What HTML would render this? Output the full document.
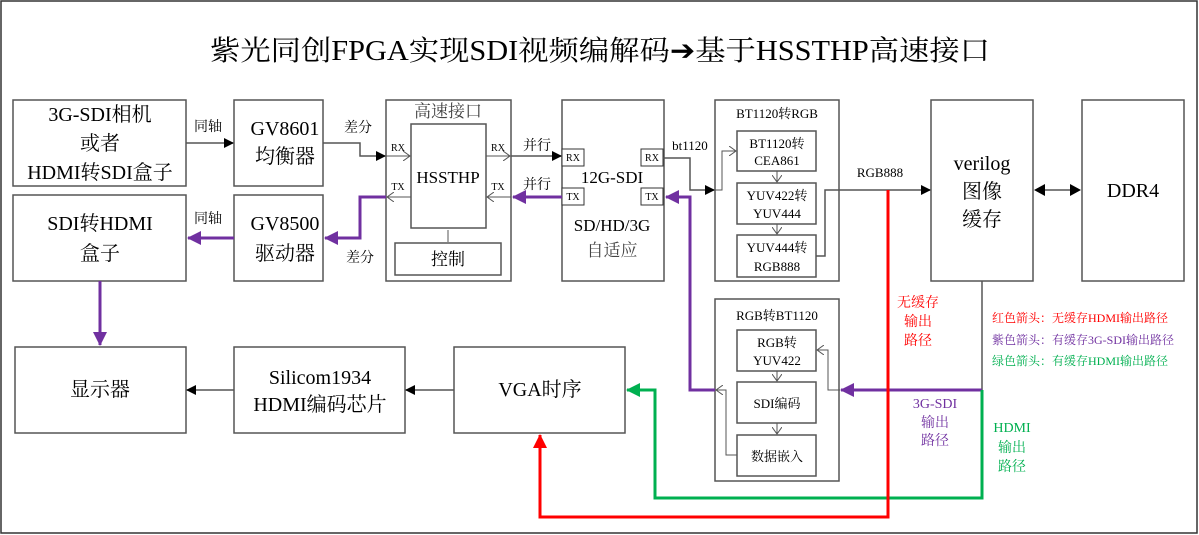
<!DOCTYPE html>
<html><head><meta charset="utf-8"><style>
html,body{margin:0;padding:0;background:#fff;}
svg{display:block;}
text{font-family:"Liberation Serif","Noto Serif CJK SC",serif;}
</style></head><body>
<svg width="1199" height="535" viewBox="0 0 1199 535" xmlns="http://www.w3.org/2000/svg">
<defs>
<marker id="ab" markerWidth="10" markerHeight="10" refX="9" refY="5" orient="auto" markerUnits="userSpaceOnUse"><path d="M0,0 L10,5 L0,10 z" fill="#000"/></marker>
<marker id="ap" markerWidth="14" markerHeight="14" refX="13" refY="7" orient="auto" markerUnits="userSpaceOnUse"><path d="M0,0 L14,7 L0,14 z" fill="#7030a0"/></marker>
<marker id="ar" markerWidth="14" markerHeight="14" refX="13" refY="7" orient="auto" markerUnits="userSpaceOnUse"><path d="M0,0 L14,7 L0,14 z" fill="#ff0000"/></marker>
<marker id="ag" markerWidth="14" markerHeight="14" refX="13" refY="7" orient="auto" markerUnits="userSpaceOnUse"><path d="M0,0 L14,7 L0,14 z" fill="#00b050"/></marker>
<marker id="ao" markerWidth="8" markerHeight="10" refX="7" refY="5" orient="auto" markerUnits="userSpaceOnUse"><path d="M0,0 L7,5 L0,10" fill="none" stroke="#555" stroke-width="1"/></marker>
</defs>
<rect x="1" y="1" width="1196" height="532" fill="#fff" stroke="#333" stroke-width="1.5"/>
<text x="600" y="60" font-size="28" text-anchor="middle" textLength="780" lengthAdjust="spacingAndGlyphs">紫光同创FPGA实现SDI视频编解码➔基于HSSTHP高速接口</text>

<g fill="#fff" stroke="#555" stroke-width="1.5">
<rect x="13" y="100" width="173" height="86"/>
<rect x="234" y="100" width="89" height="86"/>
<rect x="386" y="100" width="125" height="181"/>
<rect x="411" y="124" width="75" height="104"/>
<rect x="395" y="243" width="106" height="32"/>
<rect x="562" y="100" width="102" height="181"/>
<rect x="13" y="195" width="173" height="86"/>
<rect x="234" y="195" width="89" height="86"/>
<rect x="715" y="100" width="124" height="181"/>
<rect x="737" y="131" width="79" height="40"/>
<rect x="737" y="183" width="79" height="41"/>
<rect x="737" y="235" width="79" height="42"/>
<rect x="931" y="100" width="102" height="181"/>
<rect x="1082" y="100" width="102" height="181"/>
<rect x="715" y="299" width="124" height="182"/>
<rect x="737" y="330" width="79" height="41"/>
<rect x="737" y="382" width="79" height="41"/>
<rect x="737" y="435" width="79" height="41"/>
<rect x="15" y="347" width="171" height="86"/>
<rect x="234" y="347" width="171" height="86"/>
<rect x="454" y="347" width="171" height="86"/>
</g>
<g fill="#fff" stroke="#333" stroke-width="1">
<rect x="562" y="149" width="22" height="17"/>
<rect x="562" y="188" width="22" height="17"/>
<rect x="641" y="149" width="22" height="17"/>
<rect x="641" y="188" width="22" height="17"/>
</g>

<g font-size="20" text-anchor="middle">
<text x="100" y="121">3G-SDI相机</text>
<text x="100" y="150">或者</text>
<text x="100" y="179">HDMI转SDI盒子</text>
<text x="285" y="135">GV8601</text>
<text x="285" y="163">均衡器</text>
<text x="100" y="230">SDI转HDMI</text>
<text x="100" y="260">盒子</text>
<text x="285" y="230">GV8500</text>
<text x="285" y="260">驱动器</text>
<text x="982" y="170">verilog</text>
<text x="982" y="198">图像</text>
<text x="982" y="226">缓存</text>
<text x="1133" y="197">DDR4</text>
<text x="100" y="396">显示器</text>
<text x="320" y="384">Silicom1934</text>
<text x="320" y="411">HDMI编码芯片</text>
<text x="540" y="396">VGA时序</text>
</g>
<g font-size="17" text-anchor="middle">
<text x="448" y="117" style="fill:#444">高速接口</text>
<text x="448" y="183">HSSTHP</text>
<text x="448" y="265">控制</text>
<text x="612" y="183">12G-SDI</text>
<text x="612" y="231">SD/HD/3G</text>
<text x="612" y="256" style="fill:#444">自适应</text>
</g>
<g font-size="13" text-anchor="middle">
<text x="777" y="118">BT1120转RGB</text>
<text x="777" y="148">BT1120转</text>
<text x="777" y="165">CEA861</text>
<text x="777" y="200">YUV422转</text>
<text x="777" y="218">YUV444</text>
<text x="777" y="252">YUV444转</text>
<text x="777" y="271">RGB888</text>
<text x="777" y="320">RGB转BT1120</text>
<text x="777" y="347">RGB转</text>
<text x="777" y="365">YUV422</text>
<text x="777" y="408">SDI编码</text>
<text x="777" y="461">数据嵌入</text>
<text x="880" y="177">RGB888</text>
<text x="690" y="150">bt1120</text>
</g>
<g font-size="10" text-anchor="middle">
<text x="573" y="161">RX</text><text x="573" y="200">TX</text>
<text x="652" y="161">RX</text><text x="652" y="200">TX</text>
<text x="398" y="151">RX</text><text x="398" y="190">TX</text>
<text x="498" y="151">RX</text><text x="498" y="190">TX</text>
</g>
<g font-size="14" text-anchor="middle">
<text x="208" y="131">同轴</text>
<text x="208" y="223">同轴</text>
<text x="358" y="132">差分</text>
<text x="360" y="262">差分</text>
<text x="537" y="150">并行</text>
<text x="537" y="189">并行</text>
</g>

<g fill="none" stroke="#555" stroke-width="1.5">
<line x1="186" y1="143" x2="233" y2="143" marker-end="url(#ab)"/>
<polyline points="323,143 360,143 360,156 385,156" marker-end="url(#ab)"/>
<polyline points="511,156 561,156" marker-end="url(#ab)"/>
<polyline points="663,158 690,158 690,190 714,190" marker-end="url(#ab)"/>
<polyline points="816,256 825,256 825,190 930,190" marker-end="url(#ab)"/>
<line x1="1040" y1="190" x2="1075" y2="190"/>
<line x1="982" y1="281" x2="982" y2="390"/>
<line x1="234" y1="390" x2="187" y2="390" marker-end="url(#ab)"/>
<line x1="454" y1="390" x2="406" y2="390" marker-end="url(#ab)"/>
</g>
<path d="M1034,190 l11,-6 v12z M1081,190 l-11,-6 v12z" fill="#000"/>
<g fill="none" stroke="#555" stroke-width="1">
<line x1="386" y1="156" x2="410" y2="156" marker-end="url(#ao)"/>
<line x1="486" y1="156" x2="510" y2="156" marker-end="url(#ao)"/>
<line x1="511" y1="197" x2="487" y2="197" marker-end="url(#ao)"/>
<line x1="411" y1="197" x2="387" y2="197" marker-end="url(#ao)"/>
<line x1="448" y1="230" x2="448" y2="242"/>
<polyline points="715,190 722,190 722,151 736,151" marker-end="url(#ao)"/>
<line x1="777" y1="171" x2="777" y2="182" marker-end="url(#ao)"/>
<line x1="777" y1="224" x2="777" y2="234" marker-end="url(#ao)"/>
<line x1="777" y1="371" x2="777" y2="381" marker-end="url(#ao)"/>
<line x1="777" y1="423" x2="777" y2="434" marker-end="url(#ao)"/>
<polyline points="840,390 828,390 828,350 817,350" marker-end="url(#ao)"/>
<polyline points="737,455 726,455 726,390 716,390" marker-end="url(#ao)"/>
</g>

<g fill="none" stroke="#7030a0" stroke-width="3">
<line x1="562" y1="197" x2="513" y2="197" marker-end="url(#ap)"/>
<polyline points="386,197 360,197 360,238 325,238" marker-end="url(#ap)"/>
<line x1="234" y1="238" x2="188" y2="238" marker-end="url(#ap)"/>
<line x1="100" y1="281" x2="100" y2="345" marker-end="url(#ap)"/>
<polyline points="982,390 841,390" marker-end="url(#ap)"/>
<polyline points="715,390 690,390 690,197 666,197" marker-end="url(#ap)"/>
</g>
<polyline points="982,390 982,498 655,498 655,390 627,390" fill="none" stroke="#00b050" stroke-width="3" marker-end="url(#ag)"/>
<polyline points="888,190 888,517 540,517 540,435" fill="none" stroke="#ff0000" stroke-width="3" marker-end="url(#ar)"/>

<g font-size="14" text-anchor="middle">
<text x="918" y="307" style="fill:#ff0000">无缓存</text>
<text x="918" y="326" style="fill:#ff0000">输出</text>
<text x="918" y="345" style="fill:#ff0000">路径</text>
<text x="935" y="408" style="fill:#7030a0">3G-SDI</text>
<text x="935" y="427" style="fill:#7030a0">输出</text>
<text x="935" y="445" style="fill:#7030a0">路径</text>
<text x="1012" y="432" style="fill:#00b050">HDMI</text>
<text x="1012" y="452" style="fill:#00b050">输出</text>
<text x="1012" y="471" style="fill:#00b050">路径</text>
</g>
<g font-size="12">
<text x="992" y="322" style="fill:#ff0000">红色箭头：无缓存HDMI输出路径</text>
<text x="992" y="344" style="fill:#7030a0">紫色箭头：有缓存3G-SDI输出路径</text>
<text x="992" y="365" style="fill:#00b050">绿色箭头：有缓存HDMI输出路径</text>
</g>
</svg>
</body></html>
